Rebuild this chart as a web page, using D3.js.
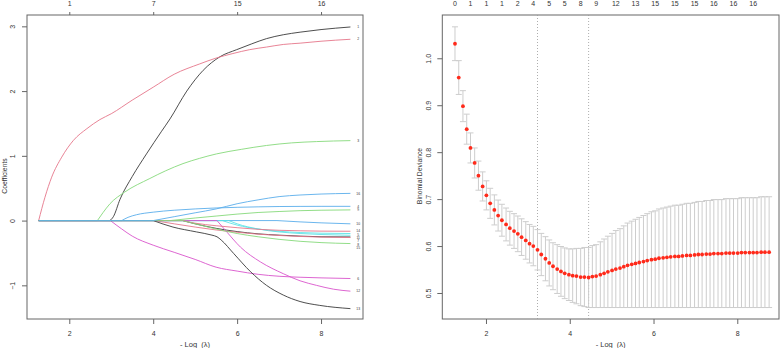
<!DOCTYPE html>
<html>
<head>
<meta charset="utf-8">
<script src="https://cdn.jsdelivr.net/npm/d3@7"></script>
<style>
  body { margin: 0; background: #fff; }
  svg text { font-family: "Liberation Sans", Arial, sans-serif; fill: #333; }
</style>
</head>
<body>
<div id="chart"></div>
<script>
// ---- left panel: lasso coefficient paths, [-log(lambda), coefficient] knots per variable
const pathStart = 1.27;
const pathEnd = 8.72;
const varLabels = ['1', '2', '3', '4', '5', '6', '7', '8', '9', '10', '11', '12', '13', '14', '15', '16'];
const varColors = ['#3a3a3a', '#e5768a', '#86d97a', '#5aaeeb', '#5ee3e6', '#d955cc'];

const coef1 = [[2.97, 0], [3.05, 0.06], [3.21, 0.33], [3.5, 0.68], [3.84, 1.03], [4.2, 1.38], [4.4, 1.57], [4.8, 2.0], [5.19, 2.32], [5.59, 2.53], [5.99, 2.64], [6.35, 2.73], [6.7, 2.81], [7.1, 2.87], [7.5, 2.91], [8.0, 2.95], [8.7, 2.99]];
const coef2 = [[1.27, 0], [1.42, 0.36], [1.58, 0.67], [1.82, 0.98], [2.1, 1.24], [2.42, 1.42], [2.73, 1.56], [3.0, 1.65], [3.5, 1.86], [4.0, 2.06], [4.5, 2.26], [5.11, 2.42], [5.5, 2.51], [5.9, 2.58], [6.3, 2.64], [6.7, 2.68], [7.1, 2.72], [7.5, 2.74], [8.0, 2.77], [8.7, 2.8]];
const coef3 = [[2.67, 0], [2.8, 0.12], [2.97, 0.26], [3.32, 0.44], [3.92, 0.65], [4.3, 0.77], [4.71, 0.88], [5.1, 0.96], [5.51, 1.03], [6.1, 1.1], [6.7, 1.16], [7.3, 1.2], [7.89, 1.22], [8.7, 1.235]];
const coef4 = [[3.25, 0], [3.4, 0.05], [3.6, 0.09], [4.0, 0.13], [4.5, 0.16], [5.0, 0.18], [5.5, 0.195], [6.0, 0.205], [6.5, 0.212], [7.0, 0.217], [7.5, 0.219], [8.0, 0.22], [8.7, 0.22]];
const coef5 = [[5.65, 0], [6.0, -0.07], [6.5, -0.13], [7.0, -0.165], [7.5, -0.185], [8.0, -0.195], [8.7, -0.2]];
const coef6 = [[2.98, 0], [3.25, -0.13], [3.5, -0.24], [4.0, -0.38], [4.5, -0.49], [5.0, -0.6], [5.5, -0.72], [6.0, -0.78], [6.5, -0.83], [7.0, -0.86], [7.5, -0.875], [8.0, -0.885], [8.7, -0.895]];
const coef7 = [[4.7, 0], [5.0, -0.05], [5.5, -0.12], [6.0, -0.17], [6.5, -0.205], [7.0, -0.225], [7.5, -0.24], [8.0, -0.25], [8.7, -0.253]];
const coef8 = [[4.02, 0], [4.5, -0.05], [5.0, -0.1], [5.5, -0.145], [6.0, -0.18], [6.5, -0.21], [7.0, -0.23], [7.5, -0.245], [8.0, -0.255], [8.7, -0.262]];
const coef9 = [[4.4, 0], [5.0, 0.04], [5.5, 0.07], [6.0, 0.1], [6.5, 0.125], [7.0, 0.14], [7.5, 0.153], [8.0, 0.16], [8.7, 0.165]];
const coef10 = [[6.95, 0], [7.5, -0.02], [8.0, -0.035], [8.7, -0.05]];
const coef11 = [[5.8, 0], [6.0, -0.05], [6.5, -0.13], [7.0, -0.175], [7.5, -0.2], [8.0, -0.215], [8.7, -0.227]];
const coef12 = [[5.52, 0], [5.76, -0.18], [6.08, -0.41], [6.56, -0.64], [7.1, -0.82], [7.5, -0.93], [7.89, -1.0], [8.3, -1.06], [8.7, -1.09]];
const coef13 = [[4.0, 0], [4.47, -0.1], [5.03, -0.175], [5.4, -0.225], [5.52, -0.25], [5.62, -0.3], [5.92, -0.51], [6.32, -0.79], [6.7, -1.0], [7.1, -1.15], [7.5, -1.25], [7.97, -1.31], [8.7, -1.36]];
const coef14 = [[4.7, 0], [5.0, -0.04], [5.5, -0.08], [6.0, -0.11], [6.5, -0.135], [7.0, -0.15], [7.5, -0.158], [8.0, -0.163], [8.7, -0.165]];
const coef15 = [[4.7, 0], [5.0, -0.05], [5.5, -0.13], [6.0, -0.2], [6.5, -0.25], [7.0, -0.29], [7.5, -0.32], [8.0, -0.34], [8.7, -0.355]];
const coef16 = [[4.0, 0], [4.5, 0.06], [5.0, 0.12], [5.5, 0.18], [6.0, 0.26], [6.5, 0.32], [7.0, 0.37], [7.5, 0.395], [8.0, 0.41], [8.7, 0.42]];
const coefPaths = [coef1, coef2, coef3, coef4, coef5, coef6, coef7, coef8, coef9, coef10, coef11, coef12, coef13, coef14, coef15, coef16];

const leftTopTicks = [2, 4, 6, 8];
const leftTopLabels = ['1', '7', '15', '16'];

// ---- right panel: cross-validation curve
const cvLogLambda = [1.26, 1.35, 1.45, 1.54, 1.63, 1.73, 1.82, 1.92, 2.01, 2.10, 2.20, 2.29, 2.38, 2.48, 2.57, 2.67, 2.76, 2.85, 2.95, 3.04,
  3.13, 3.23, 3.32, 3.42, 3.51, 3.60, 3.70, 3.79, 3.88, 3.98, 4.07, 4.16, 4.26, 4.35, 4.45, 4.54, 4.63, 4.73, 4.82, 4.91,
  5.01, 5.10, 5.20, 5.29, 5.38, 5.48, 5.57, 5.66, 5.76, 5.85, 5.95, 6.04, 6.13, 6.23, 6.32, 6.41, 6.51, 6.60, 6.69, 6.79,
  6.88, 6.98, 7.07, 7.16, 7.26, 7.35, 7.44, 7.54, 7.63, 7.73, 7.82, 7.91, 8.01, 8.10, 8.19, 8.29, 8.38, 8.47, 8.57, 8.66, 8.76];
const cvMean = [1.031, 0.959, 0.898, 0.849, 0.809, 0.777, 0.750, 0.727, 0.708, 0.691, 0.677, 0.665, 0.655, 0.646, 0.638, 0.632, 0.626, 0.619, 0.612, 0.605,
  0.600, 0.592, 0.582, 0.573, 0.564, 0.557, 0.551, 0.546, 0.542, 0.539, 0.537, 0.536, 0.534, 0.534, 0.533, 0.535, 0.536, 0.539, 0.542, 0.545,
  0.548, 0.551, 0.553, 0.556, 0.559, 0.561, 0.563, 0.565, 0.567, 0.569, 0.571, 0.572, 0.574, 0.575, 0.576, 0.577, 0.578, 0.578, 0.579, 0.580,
  0.580, 0.581, 0.582, 0.582, 0.583, 0.583, 0.584, 0.584, 0.584, 0.585, 0.585, 0.585, 0.585, 0.586, 0.586, 0.586, 0.586, 0.586, 0.587, 0.587, 0.587];
const cvSd = [0.036, 0.036, 0.033, 0.032, 0.032, 0.032, 0.031, 0.031, 0.031, 0.032, 0.032, 0.033, 0.034, 0.035, 0.036, 0.037, 0.038, 0.039, 0.040, 0.041,
  0.042, 0.043, 0.045, 0.047, 0.049, 0.050, 0.052, 0.053, 0.054, 0.055, 0.057, 0.059, 0.061, 0.063, 0.064, 0.066, 0.067, 0.070, 0.073, 0.076,
  0.079, 0.082, 0.084, 0.087, 0.090, 0.092, 0.094, 0.096, 0.098, 0.100, 0.102, 0.103, 0.105, 0.106, 0.107, 0.108, 0.109, 0.109, 0.110, 0.111,
  0.111, 0.112, 0.113, 0.113, 0.114, 0.114, 0.115, 0.115, 0.115, 0.116, 0.116, 0.116, 0.116, 0.117, 0.117, 0.117, 0.117, 0.117, 0.118, 0.118, 0.118];
const nzeroIndex = [0, 4, 8, 12, 16, 20, 24, 28, 32, 36, 41, 46, 51, 56, 61, 66, 71, 76];
const nzeroLabels = ['0', '1', '1', '1', '2', '4', '5', '5', '8', '9', '12', '13', '15', '15', '15', '16', '16', '16'];
const lambda1se = 3.23;
const lambdaMin = 4.45;

const xTicks = [2, 4, 6, 8];
const leftYTicks = [-1, 0, 1, 2, 3];
const rightYTicks = [0.5, 0.6, 0.7, 0.8, 0.9, 1.0];

const W = 780, H = 348;
const svg = d3.select('#chart').append('svg').attr('width', W).attr('height', H);

const boxTop = 15, boxBottom = 319;
const L = { left: 27, right: 363 };
const R = { left: 442.3, right: 779 };

const xL = d3.scaleLinear().domain([0.992, 9.0]).range([L.left, L.right]);
const yL = d3.scaleLinear().domain([-1.52, 3.175]).range([boxBottom, boxTop]);
const xR = d3.scaleLinear().domain([0.957, 8.996]).range([R.left, R.right]);
const yR = d3.scaleLinear().domain([0.4446, 1.0922]).range([boxBottom, boxTop]);

const axisColor = '#666';
const tickFont = 7;

function styleAxis(g) {
  g.select('.domain').remove();
  g.selectAll('line').attr('stroke', axisColor);
  g.selectAll('text').attr('font-size', tickFont).attr('fill', '#333');
}

function drawPanel(x, y, box, yTicks, yFmt, yTitle, yTitleX) {
  const g = svg.append('g');
  g.append('rect')
    .attr('x', box.left).attr('y', boxTop)
    .attr('width', box.right - box.left).attr('height', boxBottom - boxTop)
    .attr('fill', 'none').attr('stroke', axisColor).attr('stroke-width', 1);

  g.append('g')
    .attr('transform', `translate(0,${boxBottom})`)
    .call(d3.axisBottom(x).tickValues(xTicks).tickFormat(d3.format('d')).tickSize(5))
    .call(styleAxis)
    .call((a) => a.selectAll('text').attr('y', 16.5).attr('dy', 0));

  g.append('g')
    .attr('transform', `translate(${box.left},0)`)
    .call(d3.axisLeft(y).tickValues(yTicks).tickFormat(yFmt).tickSize(5))
    .call(styleAxis)
    .call((a) => a.selectAll('text')
      .attr('transform', 'rotate(-90)')
      .attr('x', 0).attr('y', -11.8).attr('dy', 0)
      .attr('text-anchor', 'middle'));

  const xTitle = g.append('text')
    .attr('x', (box.left + box.right) / 2).attr('y', 346.5)
    .attr('text-anchor', 'middle').attr('font-size', 7.5);
  xTitle.append('tspan').text('- Log ');
  xTitle.append('tspan').attr('dx', 2).text('(λ)');

  g.append('text')
    .attr('transform', `translate(${yTitleX},${(boxTop + boxBottom) / 2 + 9}) rotate(-90)`)
    .attr('text-anchor', 'middle').attr('font-size', 6.8)
    .text(yTitle);
  return g;
}

// ---------- left panel
const gL = drawPanel(xL, yL, L, leftYTicks, d3.format('d'), 'Coefficients', 6.5);

gL.append('g')
  .attr('transform', `translate(0,${boxTop})`)
  .call(d3.axisTop(xL).tickValues(leftTopTicks).tickFormat((d, i) => leftTopLabels[i]).tickSize(3))
  .call(styleAxis)
  .call((a) => a.selectAll('text').attr('y', -9.5).attr('dy', 0));

const coefLine = d3.line()
  .x((d) => xL(d[0]))
  .y((d) => yL(d[1]))
  .curve(d3.curveMonotoneX);

coefPaths.forEach((pts, i) => {
  const col = varColors[i % varColors.length];
  gL.append('line')
    .attr('x1', xL(pathStart)).attr('x2', xL(pts[0][0]))
    .attr('y1', yL(0)).attr('y2', yL(0))
    .attr('stroke', col).attr('stroke-width', 0.9);
  gL.append('path')
    .attr('d', coefLine(pts))
    .attr('fill', 'none')
    .attr('stroke', col)
    .attr('stroke-width', 0.9);
});

// end labels, nudged apart a little where they crowd
const labelPos = coefPaths
  .map((pts, i) => ({ label: varLabels[i], y: yL(pts[pts.length - 1][1]) }))
  .sort((a, b) => a.y - b.y);
const minGap = 3.3;
for (let k = 1; k < labelPos.length; k++) {
  if (labelPos[k].y - labelPos[k - 1].y < minGap) labelPos[k].y = labelPos[k - 1].y + minGap;
}

gL.selectAll('.varlab')
  .data(labelPos)
  .enter()
  .append('text')
  .attr('class', 'varlab')
  .attr('x', xL(pathEnd) + 7)
  .attr('y', (d) => d.y + 1.2)
  .attr('text-anchor', 'middle')
  .attr('font-size', 3.4)
  .attr('fill', '#555')
  .text((d) => d.label);

// ---------- right panel
const gR = drawPanel(xR, yR, R, rightYTicks, d3.format('.1f'), 'Binomial Deviance', 421.5);

gR.selectAll('.nz')
  .data(nzeroIndex)
  .enter()
  .append('text')
  .attr('class', 'nz')
  .attr('x', (d) => xR(cvLogLambda[d]))
  .attr('y', 5.5)
  .attr('text-anchor', 'middle')
  .attr('font-size', tickFont)
  .text((d, i) => nzeroLabels[i]);

[lambda1se, lambdaMin].forEach((v) => {
  gR.append('line')
    .attr('x1', xR(v)).attr('x2', xR(v))
    .attr('y1', boxTop).attr('y2', boxBottom)
    .attr('stroke', '#999').attr('stroke-width', 0.8)
    .attr('stroke-dasharray', '1,2');
});

const cvData = cvLogLambda.map((v, i) => ({ x: v, m: cvMean[i], sd: cvSd[i] }));
const barCol = '#cdcdcd';
const capHalf = 3;

const bars = gR.append('g');
bars.selectAll('.bar')
  .data(cvData)
  .enter()
  .append('line')
  .attr('x1', (d) => xR(d.x)).attr('x2', (d) => xR(d.x))
  .attr('y1', (d) => yR(d.m + d.sd)).attr('y2', (d) => yR(d.m - d.sd))
  .attr('stroke', barCol).attr('stroke-width', 1);
bars.selectAll('.capU')
  .data(cvData)
  .enter()
  .append('line')
  .attr('x1', (d) => xR(d.x) - capHalf).attr('x2', (d) => xR(d.x) + capHalf)
  .attr('y1', (d) => yR(d.m + d.sd)).attr('y2', (d) => yR(d.m + d.sd))
  .attr('stroke', barCol).attr('stroke-width', 1);
bars.selectAll('.capL')
  .data(cvData)
  .enter()
  .append('line')
  .attr('x1', (d) => xR(d.x) - capHalf).attr('x2', (d) => xR(d.x) + capHalf)
  .attr('y1', (d) => yR(d.m - d.sd)).attr('y2', (d) => yR(d.m - d.sd))
  .attr('stroke', barCol).attr('stroke-width', 1);

gR.selectAll('.pt')
  .data(cvData)
  .enter()
  .append('circle')
  .attr('cx', (d) => xR(d.x))
  .attr('cy', (d) => yR(d.m))
  .attr('r', 1.9)
  .attr('fill', '#ff2a1a');
</script>
</body>
</html>
